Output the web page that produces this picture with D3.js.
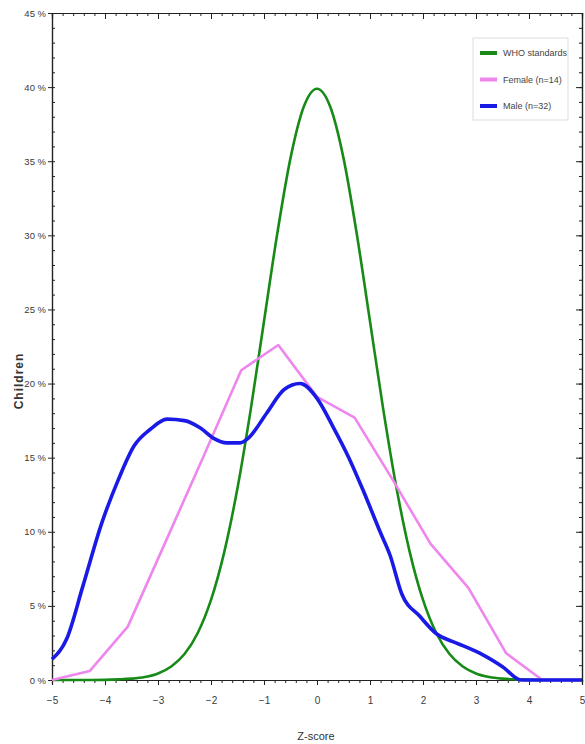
<!DOCTYPE html>
<html>
<head>
<meta charset="utf-8">
<script src="https://cdn.jsdelivr.net/npm/d3@7"></script>
<style>
  html, body { margin: 0; padding: 0; background: #fff; }
  svg { display: block; font-family: "Liberation Sans", Arial, sans-serif; }
  .tick text { fill: #3a3a3a; }
</style>
</head>
<body>
<svg id="chart" width="585" height="744"></svg>
<script>
// Axis ticks
const xTicks = [-5, -4, -3, -2, -1, 0, 1, 2, 3, 4, 5];
const yTicks = [0, 5, 10, 15, 20, 25, 30, 35, 40, 45];

// WHO reference distribution (percent of children by z-score)
const whoZ = [-5, -4.75, -4.5, -4.25, -4, -3.75, -3.5, -3.25, -3, -2.75, -2.5, -2.25, -2, -1.75, -1.5, -1.25, -1, -0.75, -0.5, -0.25,
              0, 0.25, 0.5, 0.75, 1, 1.25, 1.5, 1.75, 2, 2.25, 2.5, 2.75, 3, 3.25, 3.5, 3.75, 4, 4.25, 4.5, 4.75, 5];
const whoPct = [0, 0, 0, 0, 0.01, 0.04, 0.09, 0.20, 0.44, 0.91, 1.75, 3.17, 5.40, 8.63, 12.95, 18.26, 24.20, 30.11, 35.21, 38.67,
                39.89, 38.67, 35.21, 30.11, 24.20, 18.26, 12.95, 8.63, 5.40, 3.17, 1.75, 0.91, 0.44, 0.20, 0.09, 0.04, 0.01, 0, 0, 0, 0];

// Female sample (n=14)
const femaleZ = [-5, -4.29, -3.57, -2.86, -2.14, -1.43, -0.73, 0, 0.71, 1.43, 2.14, 2.86, 3.57, 4.25, 5];
const femalePct = [0, 0.6, 3.6, 9.3, 15.1, 20.9, 22.6, 19.1, 17.7, 13.5, 9.2, 6.2, 1.8, 0, 0];

// Male sample (n=32)
const maleZ = [-5, -4.72, -4.42, -4.06, -3.75, -3.45, -3.15, -2.83, -2.5, -2.2, -1.95, -1.7, -1.45, -1.3, -0.95, -0.62, -0.32,
               0, 0.3, 0.6, 0.87, 1.19, 1.38, 1.6, 1.94, 2.26, 2.55, 2.83, 3.13, 3.5, 3.85, 5];
const malePct = [1.4, 2.8, 6.3, 10.6, 13.5, 15.8, 16.9, 17.6, 17.5, 17.0, 16.3, 16.0, 16.0, 16.3, 18.0, 19.6, 20.0,
                 19.0, 17.1, 15.0, 12.8, 10.0, 8.4, 5.8, 4.3, 3.1, 2.6, 2.2, 1.7, 0.9, 0, 0];

const seriesNames = ["WHO standards", "Female (n=14)", "Male (n=32)"];
const seriesColors = ["#178a17", "#ee86ee", "#1a1ae6"];
const seriesWidths = [2.6, 2.6, 3.6];

const svg = d3.select("#chart");
const plotLeft = 52, plotRight = 582, plotTop = 13, plotBottom = 680;

const x = d3.scaleLinear().domain([-5, 5]).range([plotLeft, plotRight]);
const y = d3.scaleLinear().domain([0, 45]).range([plotBottom, plotTop]);

const minorX = d3.range(-5, 5.0001, 0.2).map(v => +v.toFixed(1));
const minorY = d3.range(0, 46, 1);

function styleAxis(g) {
  g.select(".domain").attr("stroke", "#222").attr("stroke-width", 1.2);
  g.selectAll(".tick line").attr("stroke", "#222").attr("stroke-width", 1);
}

// Frame: bottom, left, top, right with minor and major ticks
svg.append("g").attr("transform", `translate(0,${plotBottom})`)
  .call(d3.axisBottom(x).tickValues(minorX).tickSize(3).tickFormat(""))
  .call(styleAxis);
svg.append("g").attr("transform", `translate(0,${plotBottom})`)
  .call(d3.axisBottom(x).tickValues(xTicks).tickSize(5).tickPadding(12).tickFormat(d3.format("d")))
  .call(styleAxis)
  .call(g => g.selectAll(".tick text").attr("font-size", "10px"));

svg.append("g").attr("transform", `translate(${plotLeft},0)`)
  .call(d3.axisRight(y).tickValues(minorY).tickSize(3).tickFormat(""))
  .call(styleAxis);
svg.append("g").attr("transform", `translate(${plotLeft},0)`)
  .call(d3.axisLeft(y).tickValues(yTicks).tickSize(4).tickPadding(2).tickFormat(d => d + " %"))
  .call(styleAxis)
  .call(g => g.selectAll(".tick text").attr("font-size", "9.5px"));

svg.append("g").attr("transform", `translate(0,${plotTop})`)
  .call(d3.axisBottom(x).tickValues(minorX).tickSize(3).tickFormat(""))
  .call(styleAxis);
svg.append("g").attr("transform", `translate(0,${plotTop})`)
  .call(d3.axisBottom(x).tickValues(xTicks).tickSize(6).tickFormat(""))
  .call(styleAxis);

svg.append("g").attr("transform", `translate(${plotRight},0)`)
  .call(d3.axisLeft(y).tickValues(minorY).tickSize(3).tickFormat(""))
  .call(styleAxis);
svg.append("g").attr("transform", `translate(${plotRight},0)`)
  .call(d3.axisLeft(y).tickValues(yTicks).tickSize(6).tickFormat(""))
  .call(styleAxis);

// Axis titles
svg.append("text")
  .attr("x", 316).attr("y", 740)
  .attr("text-anchor", "middle")
  .attr("font-size", "11px").attr("fill", "#333")
  .text("Z-score");

svg.append("text")
  .attr("transform", "translate(23,381) rotate(-90)")
  .attr("text-anchor", "middle")
  .attr("font-size", "12px").attr("font-weight", "bold")
  .attr("letter-spacing", "1px").attr("fill", "#333")
  .text("Children");

// Curves
const line = d3.line().x(d => x(d[0])).y(d => y(d[1]));
const series = [
  { z: whoZ, p: whoPct, curve: d3.curveMonotoneX },
  { z: femaleZ, p: femalePct, curve: d3.curveLinear },
  { z: maleZ, p: malePct, curve: d3.curveMonotoneX }
];
series.forEach((s, i) => {
  svg.append("path")
    .datum(d3.zip(s.z, s.p))
    .attr("fill", "none")
    .attr("stroke", seriesColors[i])
    .attr("stroke-width", seriesWidths[i])
    .attr("stroke-linejoin", "round")
    .attr("d", line.curve(s.curve));
});

// Legend
const legend = svg.append("g").attr("transform", "translate(473,38)");
legend.append("rect")
  .attr("width", 95).attr("height", 82)
  .attr("fill", "#fff").attr("stroke", "#ddd").attr("stroke-width", 1);
seriesNames.forEach((name, i) => {
  const ly = 15 + i * 26.5;
  legend.append("line")
    .attr("x1", 7).attr("x2", 24).attr("y1", ly).attr("y2", ly)
    .attr("stroke", seriesColors[i]).attr("stroke-width", 4);
  legend.append("text")
    .attr("x", 30).attr("y", ly + 3)
    .attr("font-size", "9px").attr("fill", "#444")
    .text(name);
});
</script>
</body>
</html>
